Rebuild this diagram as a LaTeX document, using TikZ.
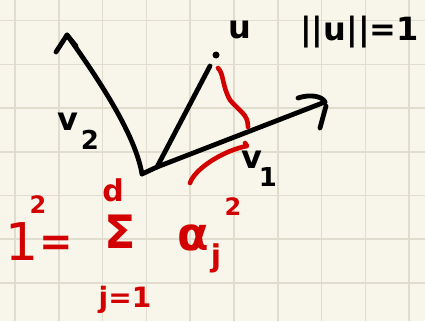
\documentclass[tikz,border=0pt]{standalone}
\usepackage{fontspec}
\setmainfont{DejaVu Sans}
\definecolor{paper}{RGB}{248,246,234}
\definecolor{gridc}{RGB}{224,221,207}
\definecolor{redink}{RGB}{210,0,0}
\begin{document}
\begin{tikzpicture}[x=1pt,y=-1pt,
  hand/.style={line width=4.8pt,line cap=round,line join=round,draw=black},
  redhand/.style={line width=4.6pt,line cap=round,line join=round,draw=redink},
  gridline/.style={draw=gridc,line width=1.6pt},
  lbl/.style={inner sep=0pt,font=\bfseries\fontsize{32}{32}\selectfont},
  sublbl/.style={inner sep=0pt,font=\bfseries\fontsize{26}{26}\selectfont},
  rlbl/.style={inner sep=0pt,text=redink}]
\fill[paper] (0,0) rectangle (425,321);
\useasboundingbox (0,0) rectangle (425,321);
\foreach \x in {15,58.8,...,420} \draw[gridline] (\x,0) -- (\x,321);
\foreach \y in {20.7,64.4,...,321} \draw[gridline] (0,\y) -- (425,\y);
% points
\coordinate (O) at (142,174);
\coordinate (V1) at (325,102);
\coordinate (V2) at (67,35);
\coordinate (U) at (210,66);
\coordinate (J) at (157,167);
\node[circle,fill=black,inner sep=0pt,minimum size=7pt] (udot) at (216,55) {};
% v2
\draw[hand] (O) .. controls (136,140) and (110,95) .. (V2);
\draw[hand] (56,52) -- (V2) -- (76,46);
% v1
\draw[hand] (O) -- (J) -- (V1);
\draw[hand] (298,98) .. controls (310,94) and (322,96) .. (V1);
\draw[hand] (326,106) -- (320,128);
% u
\draw[hand] (J) -- (U);
% red marks
\draw[redhand] (218,68) .. controls (224,74) and (222,86) .. (230,100) .. controls (240,112) and (248,114) .. (248,127);
\draw[redhand] (245,143) -- (247,146) .. controls (225,150) and (195,168) .. (190,183);
% labels
\node[lbl] (ulbl) at (240,30) {u};
\node[lbl,anchor=west] (norm) at (300,32) {||u||=1};
\node[lbl] (v2l) at (68,122) {v};
\node[sublbl] (v2s) at (90,140) {2};
\node[lbl] (v1l) at (252,160) {v};
\node[sublbl] (v1s) at (268,177) {1};
% red formula
\node[rlbl,font=\fontsize{52}{52}\selectfont] (one) at (22,242) {1};
\node[rlbl,font=\bfseries\fontsize{24}{24}\selectfont] (sqa) at (38,205) {2};
\node[rlbl,font=\bfseries\fontsize{40}{40}\selectfont] (eq) at (56,246) {=};
\node[rlbl,font=\bfseries\fontsize{30}{30}\selectfont] (dtop) at (113,190) {d};
\node[rlbl,font=\bfseries\fontsize{46}{46}\selectfont] (sig) at (120,232) {Σ};
\node[rlbl,font=\bfseries\fontsize{28}{28}\selectfont] (low) at (125,300) {j=1};
\node[rlbl,font=\bfseries\fontsize{46}{46}\selectfont] (alpha) at (193,238) {α};
\node[rlbl,font=\bfseries\fontsize{30}{30}\selectfont] (jsub) at (216,258) {j};
\node[rlbl,font=\bfseries\fontsize{24}{24}\selectfont] (sqb) at (233,207) {2};
\end{tikzpicture}
\end{document}
